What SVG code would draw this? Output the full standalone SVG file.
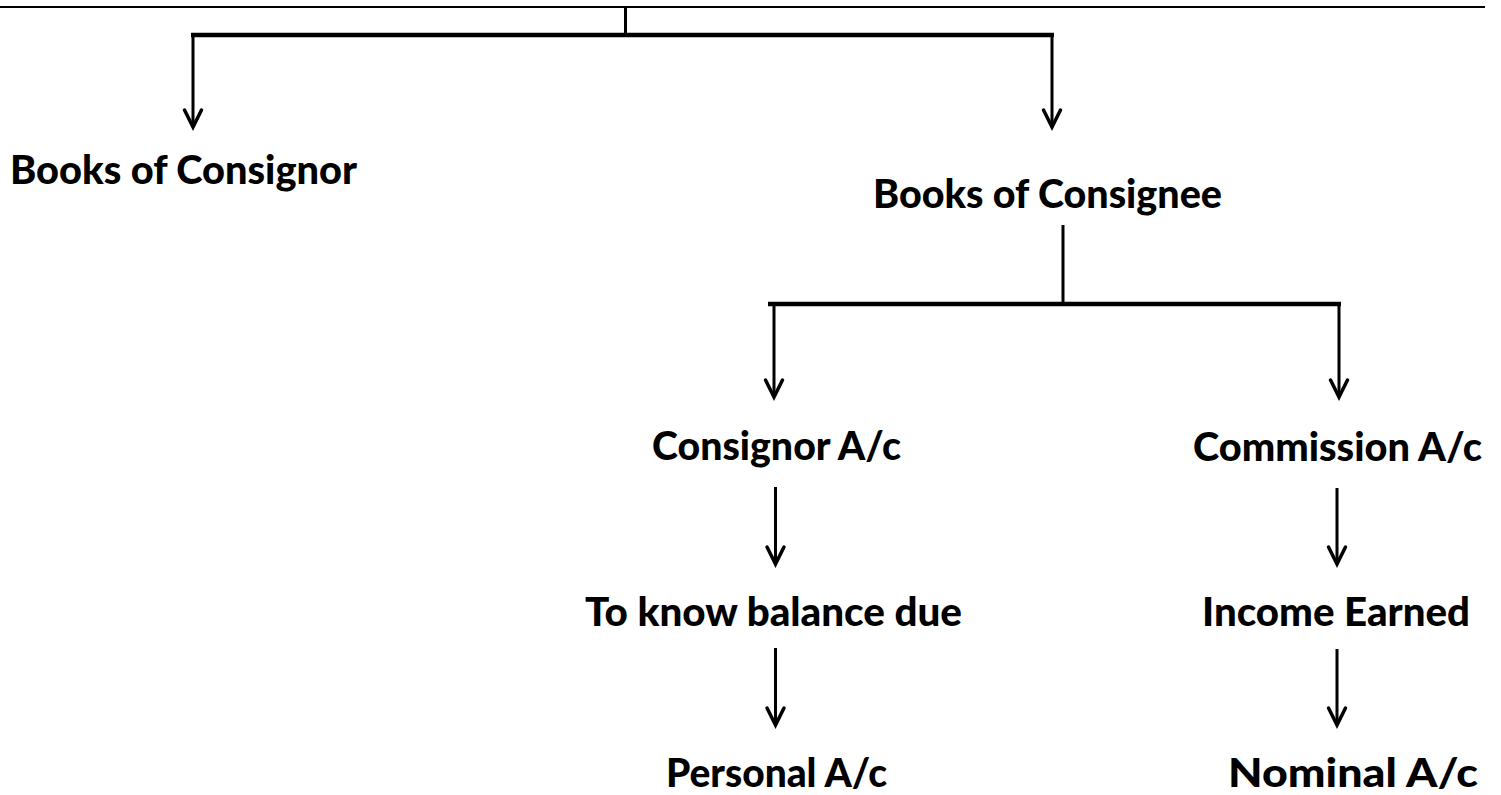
<svg xmlns="http://www.w3.org/2000/svg" width="1501" height="795" viewBox="0 0 1501 795">
<style>
.t{font-family:Lato,"Open Sans","Liberation Sans",sans-serif;font-weight:900;font-size:40px;fill:#000}
.c{stroke:#000;fill:none;stroke-width:3}
.b{stroke:#000;fill:none;stroke-width:4.5}
.h{stroke:#000;fill:none;stroke-width:3.5;stroke-linecap:round;stroke-linejoin:miter}
</style>
<defs>
<path id="ah" class="h" d="M-8.5,-17 L0,0 L8.5,-17"/>
</defs>
<rect width="1501" height="795" fill="#fff"/>
<g id="connectors">
<line x1="0" y1="7" x2="1485" y2="7" stroke="#000" stroke-width="2"/>
<line class="c" x1="625.5" y1="7" x2="625.5" y2="34"/>
<line class="b" x1="191" y1="35" x2="1054" y2="35"/>
<line class="c" x1="193" y1="33" x2="193" y2="126"/>
<use href="#ah" x="193" y="127"/>
<line class="c" x1="1052" y1="33" x2="1052" y2="126"/>
<use href="#ah" x="1052" y="127"/>
<line class="c" x1="1063" y1="225" x2="1063" y2="302"/>
<line class="b" x1="768" y1="304" x2="1341" y2="304"/>
<line class="c" x1="774" y1="302" x2="774" y2="396"/>
<use href="#ah" x="774" y="397"/>
<line class="c" x1="1339" y1="302" x2="1339" y2="396"/>
<use href="#ah" x="1339" y="397"/>
<line class="c" x1="775.5" y1="487" x2="775.5" y2="563"/>
<use href="#ah" x="775.5" y="564"/>
<line class="c" x1="1337" y1="488" x2="1337" y2="563"/>
<use href="#ah" x="1337" y="564"/>
<line class="c" x1="775.5" y1="648" x2="775.5" y2="724"/>
<use href="#ah" x="775.5" y="725"/>
<line class="c" x1="1337" y1="649" x2="1337" y2="724"/>
<use href="#ah" x="1337" y="725"/>
</g>
<g id="books-consignor"><text class="t" x="10" y="184" textLength="347" lengthAdjust="spacingAndGlyphs">Books of Consignor</text></g>
<g id="books-consignee"><text class="t" x="873" y="208" textLength="349" lengthAdjust="spacingAndGlyphs">Books of Consignee</text></g>
<g id="consignor-ac"><text class="t" x="652" y="460" textLength="249" lengthAdjust="spacingAndGlyphs">Consignor A/c</text></g>
<g id="commission-ac"><text class="t" x="1193" y="461" textLength="289" lengthAdjust="spacingAndGlyphs">Commission A/c</text></g>
<g id="balance-due"><text class="t" x="585" y="626" textLength="377" lengthAdjust="spacingAndGlyphs">To know balance due</text></g>
<g id="income-earned"><text class="t" x="1202" y="626" textLength="268" lengthAdjust="spacingAndGlyphs">Income Earned</text></g>
<g id="personal-ac"><text class="t" x="666" y="787" textLength="221" lengthAdjust="spacingAndGlyphs">Personal A/c</text></g>
<g id="nominal-ac"><text class="t" x="1228" y="787" textLength="250" lengthAdjust="spacingAndGlyphs">Nominal A/c</text></g>
</svg>
